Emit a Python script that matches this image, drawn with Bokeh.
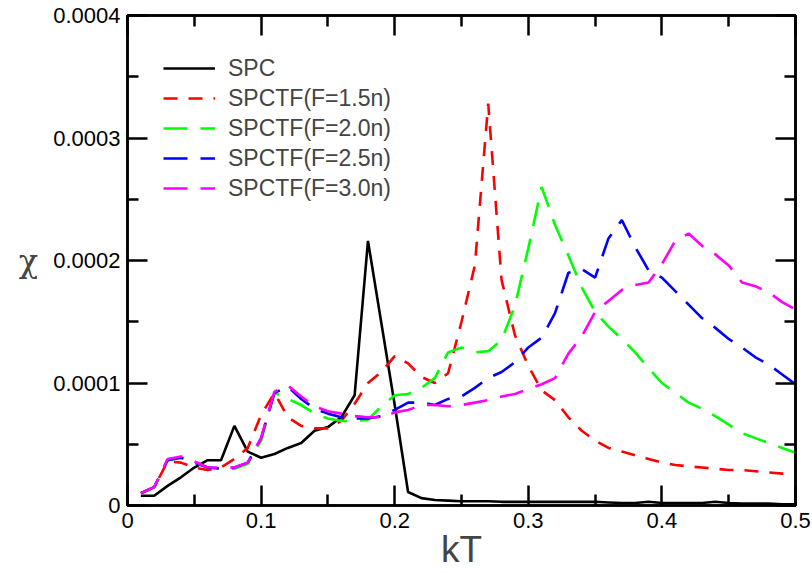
from bokeh.plotting import figure
from bokeh.models import LinearAxis, FixedTicker, Legend, LegendItem, Range1d
from bokeh.embed import file_html
from bokeh.resources import INLINE

# ---------------- data ----------------
kT = [0.01, 0.02, 0.03, 0.04, 0.05, 0.06, 0.07, 0.08, 0.09, 0.10,
      0.11, 0.12, 0.13, 0.14, 0.15, 0.16, 0.17, 0.18, 0.19, 0.20,
      0.21, 0.22, 0.23, 0.24, 0.25, 0.26, 0.27, 0.28, 0.29, 0.30,
      0.31, 0.32, 0.33, 0.34, 0.35, 0.36, 0.37, 0.38, 0.39, 0.40,
      0.41, 0.42, 0.43, 0.44, 0.45, 0.46, 0.47, 0.48, 0.49, 0.50]

chi_spc = [0.08e-4, 0.08e-4, 0.16e-4, 0.23e-4, 0.31e-4, 0.37e-4, 0.37e-4, 0.65e-4, 0.44e-4, 0.39e-4,
           0.42e-4, 0.47e-4, 0.51e-4, 0.61e-4, 0.64e-4, 0.72e-4, 0.90e-4, 2.16e-4, 1.49e-4, 0.82e-4,
           0.11e-4, 0.06e-4, 0.045e-4, 0.04e-4, 0.035e-4, 0.035e-4, 0.035e-4, 0.03e-4, 0.03e-4, 0.03e-4,
           0.03e-4, 0.03e-4, 0.03e-4, 0.03e-4, 0.03e-4, 0.025e-4, 0.02e-4, 0.02e-4, 0.03e-4, 0.02e-4,
           0.02e-4, 0.02e-4, 0.02e-4, 0.03e-4, 0.02e-4, 0.015e-4, 0.015e-4, 0.015e-4, 0.01e-4, 0.01e-4]

chi_f15 = [0.10e-4, 0.15e-4, 0.36e-4, 0.35e-4, 0.31e-4, 0.29e-4, 0.31e-4, 0.38e-4, 0.47e-4, 0.74e-4,
           0.92e-4, 0.72e-4, 0.65e-4, 0.63e-4, 0.63e-4, 0.69e-4, 0.83e-4, 1.00e-4, 1.09e-4, 1.22e-4,
           1.16e-4, 1.05e-4, 1.00e-4, 1.08e-4, 1.50e-4, 1.96e-4, 3.28e-4, 1.84e-4, 1.39e-4, 1.14e-4,
           0.94e-4, 0.86e-4, 0.72e-4, 0.61e-4, 0.53e-4, 0.47e-4, 0.44e-4, 0.41e-4, 0.38e-4, 0.35e-4,
           0.33e-4, 0.32e-4, 0.31e-4, 0.30e-4, 0.29e-4, 0.29e-4, 0.28e-4, 0.27e-4, 0.26e-4, 0.26e-4]

chi_f20 = [0.10e-4, 0.15e-4, 0.37e-4, 0.39e-4, 0.35e-4, 0.31e-4, 0.30e-4, 0.30e-4, 0.34e-4, 0.53e-4,
           0.92e-4, 0.87e-4, 0.82e-4, 0.75e-4, 0.71e-4, 0.69e-4, 0.69e-4, 0.70e-4, 0.81e-4, 0.90e-4,
           0.91e-4, 0.96e-4, 1.04e-4, 1.25e-4, 1.29e-4, 1.25e-4, 1.26e-4, 1.35e-4, 1.63e-4, 2.10e-4,
           2.60e-4, 2.29e-4, 2.04e-4, 1.78e-4, 1.58e-4, 1.46e-4, 1.36e-4, 1.25e-4, 1.12e-4, 1.00e-4,
           0.92e-4, 0.84e-4, 0.79e-4, 0.73e-4, 0.66e-4, 0.59e-4, 0.55e-4, 0.51e-4, 0.47e-4, 0.43e-4]

chi_f25 = [0.10e-4, 0.15e-4, 0.37e-4, 0.39e-4, 0.35e-4, 0.31e-4, 0.30e-4, 0.31e-4, 0.35e-4, 0.55e-4,
           0.92e-4, 0.97e-4, 0.87e-4, 0.79e-4, 0.75e-4, 0.72e-4, 0.71e-4, 0.71e-4, 0.73e-4, 0.78e-4,
           0.84e-4, 0.84e-4, 0.82e-4, 0.87e-4, 0.89e-4, 0.96e-4, 1.04e-4, 1.09e-4, 1.17e-4, 1.29e-4,
           1.37e-4, 1.57e-4, 1.90e-4, 1.93e-4, 1.86e-4, 2.18e-4, 2.33e-4, 2.11e-4, 1.92e-4, 1.86e-4,
           1.75e-4, 1.64e-4, 1.53e-4, 1.45e-4, 1.36e-4, 1.29e-4, 1.21e-4, 1.15e-4, 1.07e-4, 0.99e-4]

chi_f30 = [0.10e-4, 0.15e-4, 0.38e-4, 0.40e-4, 0.36e-4, 0.31e-4, 0.31e-4, 0.31e-4, 0.35e-4, 0.55e-4,
           0.93e-4, 0.98e-4, 0.89e-4, 0.81e-4, 0.77e-4, 0.75e-4, 0.73e-4, 0.72e-4, 0.72e-4, 0.76e-4,
           0.78e-4, 0.82e-4, 0.82e-4, 0.81e-4, 0.82e-4, 0.84e-4, 0.86e-4, 0.89e-4, 0.91e-4, 0.95e-4,
           0.99e-4, 1.04e-4, 1.24e-4, 1.38e-4, 1.58e-4, 1.67e-4, 1.76e-4, 1.80e-4, 1.82e-4, 1.97e-4,
           2.16e-4, 2.22e-4, 2.12e-4, 2.05e-4, 1.96e-4, 1.82e-4, 1.79e-4, 1.74e-4, 1.66e-4, 1.60e-4]

series_labels = ["SPC", "SPCTF(F=1.5n)", "SPCTF(F=2.0n)", "SPCTF(F=2.5n)", "SPCTF(F=3.0n)"]

x_ticks = [0.0, 0.1, 0.2, 0.3, 0.4, 0.5]
x_tick_labels = ["0", "0.1", "0.2", "0.3", "0.4", "0.5"]
x_minor = [0.05, 0.15, 0.25, 0.35, 0.45]
y_ticks = [0.0, 0.0001, 0.0002, 0.0003, 0.0004]
y_tick_labels = ["0", "0.0001", "0.0002", "0.0003", "0.0004"]
y_minor = [0.00005, 0.00015, 0.00025, 0.00035]

# ---------------- figure ----------------
FONT = "Liberation Sans"
p = figure(width=812, height=573, output_backend="svg", toolbar_location=None,
           x_range=Range1d(0, 0.5), y_range=Range1d(0, 0.0004),
           min_border_left=127, min_border_right=17, min_border_top=15, min_border_bottom=68)
p.xgrid.grid_line_color = None
p.ygrid.grid_line_color = None
p.outline_line_color = "black"
p.outline_line_width = 2.5
p.background_fill_color = "white"
p.border_fill_color = "white"


def style_axis(ax, ticks, minor, labels, show_labels):
    ax.ticker = FixedTicker(ticks=ticks, minor_ticks=minor)
    ax.axis_line_width = 2.5
    ax.axis_line_color = "black"
    ax.major_tick_in = 20
    ax.major_tick_out = 0
    ax.minor_tick_in = 11
    ax.minor_tick_out = 0
    ax.major_tick_line_width = 2.5
    ax.minor_tick_line_width = 2.5
    ax.major_tick_line_color = "black"
    ax.minor_tick_line_color = "black"
    if show_labels:
        ax.major_label_overrides = {t: s for t, s in zip(ticks, labels)}
        ax.major_label_text_font = FONT
        ax.major_label_text_font_size = "22px"
        ax.major_label_text_color = "black"
    else:
        # mirrored axis: ticks only, no tick labels drawn
        ax.major_label_text_color = None
        ax.major_label_text_font_size = "1px"
        ax.major_label_standoff = 0


xb = p.xaxis[0]
yl = p.yaxis[0]
style_axis(xb, x_ticks, x_minor, x_tick_labels, True)
style_axis(yl, y_ticks, y_minor, y_tick_labels, True)
xb.major_label_standoff = 7
yl.major_label_standoff = 7

xb.axis_label = "kT"
xb.axis_label_text_font = FONT
xb.axis_label_text_font_size = "37px"
xb.axis_label_text_font_style = "normal"
xb.axis_label_standoff = -2

yl.axis_label = "χ"
yl.axis_label_text_font = "DejaVu Serif"
yl.axis_label_text_font_size = "32px"
yl.axis_label_text_font_style = "normal"
yl.axis_label_orientation = "horizontal"
yl.axis_label_standoff = 12

xt = LinearAxis()
style_axis(xt, x_ticks, x_minor, x_tick_labels, False)
p.add_layout(xt, "above")
yr = LinearAxis()
style_axis(yr, y_ticks, y_minor, y_tick_labels, False)
p.add_layout(yr, "right")

# ---------------- lines ----------------
colors = ["black", "#ff0000", "#00ff00", "#0000ff", "#ff00ff"]
dashes = ["solid", "14 11", "24 13", "24 13", "24 13"]
data = [chi_spc, chi_f15, chi_f20, chi_f25, chi_f30]
renderers = []
for ys, c, d in zip(data, colors, dashes):
    r = p.line(kT, ys, line_color=c, line_width=2.6, line_dash=d)
    renderers.append(r)

legend = Legend(items=[LegendItem(label=lab, renderers=[r]) for lab, r in zip(series_labels, renderers)],
                location=(36, 302))
legend.border_line_color = None
legend.background_fill_alpha = 0
legend.padding = 0
legend.margin = 0
legend.spacing = 0
legend.glyph_width = 52
legend.glyph_height = 30
legend.label_height = 30
legend.label_standoff = 13
legend.label_text_font = FONT
legend.label_text_font_size = "23px"
legend.label_text_baseline = "middle"
p.add_layout(legend)

open("out.html", "w").write(file_html(p, INLINE))
